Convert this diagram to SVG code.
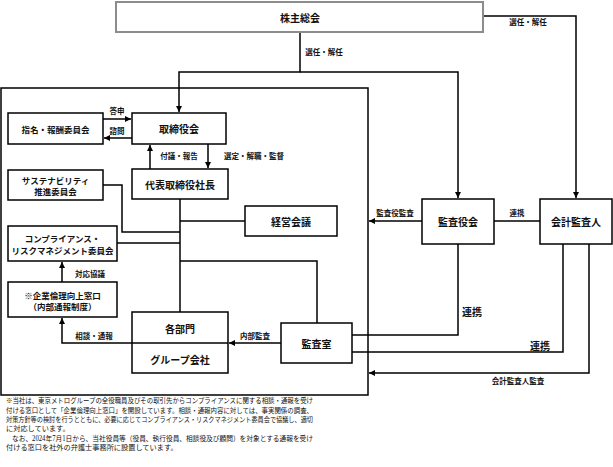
<svg xmlns="http://www.w3.org/2000/svg" width="613" height="467" viewBox="0 0 613 467">
<defs>
<marker id="arr" viewBox="0 0 10 10" refX="10" refY="5" markerWidth="6" markerHeight="6" markerUnits="userSpaceOnUse" orient="auto">
<path d="M0,0 L10,5 L0,10 z" fill="#000"/>
</marker>
<style>
.box{fill:#fff;stroke:#000;stroke-width:1.5}
.top{fill:#fff;stroke:#8c8c8c;stroke-width:2}
.ln{fill:none;stroke:#000;stroke-width:1.5}
.ar{fill:none;stroke:#000;stroke-width:1.5;marker-end:url(#arr)}
.t{font-family:"Noto Sans CJK JP","Noto Sans",sans-serif;font-weight:bold;font-size:10px;fill:#111;text-anchor:middle;dominant-baseline:central}
.s{font-family:"Noto Sans CJK JP","Noto Sans",sans-serif;font-weight:bold;font-size:8.5px;fill:#111;text-anchor:middle;dominant-baseline:central}
.e{font-family:"Noto Sans CJK JP","Noto Sans",sans-serif;font-weight:bold;font-size:7.5px;fill:#111;text-anchor:middle;dominant-baseline:central}
.n{font-family:"Liberation Serif","Noto Sans CJK JP",serif;font-size:7.2px;fill:#111}
</style>
</defs>
<rect x="1" y="88" width="367" height="307" class="ln"/>
<g id="connectors">
<path d="M300,32 V72 H179 V112" class="ar"/>
<path d="M300,72 H458 V198" class="ar"/>
<path d="M483,16 H576 V198" class="ar"/>
<path d="M103,119 H131" class="ar"/>
<path d="M132,138 H104" class="ar"/>
<path d="M150,169 V145" class="ar"/>
<path d="M208,144 V168" class="ar"/>
<path d="M103,185 H122 V232 H180" class="ln"/>
<path d="M180,199 V312" class="ln"/>
<path d="M180,221 H245" class="ln"/>
<path d="M117,243 H180" class="ln"/>
<path d="M180,261 H317 V323" class="ln"/>
<path d="M62,282 V262" class="ar"/>
<path d="M132,343 H62 V318" class="ar"/>
<path d="M281,343 H229" class="ar"/>
<path d="M494,221 H540" class="ln"/>
<path d="M422,221 H369" class="ar"/>
<path d="M458,244 V335 H352" class="ln"/>
<path d="M563,244 V352 H352" class="ln"/>
<path d="M589,244 V373 H369" class="ar"/>
<text x="324" y="51" class="e">選任・解任</text>
<text x="528" y="21.5" class="e">選任・解任</text>
<text x="117" y="110.5" class="e">答申</text>
<text x="117" y="130" class="e">諮問</text>
<text x="179" y="155.5" class="e">付議・報告</text>
<text x="254" y="155.5" class="e">選定・解職・監督</text>
<text x="90" y="273" class="e">対応協議</text>
<text x="94" y="335" class="e">相談・通報</text>
<text x="255" y="335" class="e">内部監査</text>
<text x="517" y="212.5" class="e">連携</text>
<text x="395" y="212.5" class="e">監査役監査</text>
<text x="472" y="311.5" class="t">連携</text>
<text x="540" y="345" class="t">連携</text>
<text x="518" y="380.5" class="e">会計監査人監査</text>
</g>
<g id="shareholders"><rect x="116" y="2" width="367" height="30" class="top"/><text x="300" y="17" class="t">株主総会</text></g>
<g id="nomination"><rect x="8" y="113" width="95" height="31" class="box"/><text x="55.5" y="128.5" class="s">指名・報酬委員会</text></g>
<g id="board"><rect x="132" y="113" width="94" height="31" class="box"/><text x="179" y="128.5" class="t">取締役会</text></g>
<g id="president"><rect x="132" y="169" width="96" height="30" class="box"/><text x="180" y="184" class="t">代表取締役社長</text></g>
<g id="sustainability"><rect x="8" y="170" width="95" height="30" class="box"/><text x="55.5" y="180" class="s">サステナビリティ</text><text x="55.5" y="191" class="s">推進委員会</text></g>
<g id="management"><rect x="245" y="206" width="92" height="30" class="box"/><text x="291" y="221" class="t">経営会議</text></g>
<g id="compliance"><rect x="8" y="226" width="109" height="35" class="box"/><text x="62.5" y="238" class="s">コンプライアンス・</text><text x="62.5" y="250" class="s">リスクマネジメント委員会</text></g>
<g id="hotline"><rect x="8" y="282" width="109" height="35" class="box"/><text x="62.5" y="295" class="s">※企業倫理向上窓口</text><text x="62.5" y="306" class="s">（内部通報制度）</text></g>
<g id="departments"><rect x="132" y="312" width="96" height="61" class="box"/><path d="M132,343 H228" class="ln"/><text x="180" y="328" class="t">各部門</text><text x="180" y="359" class="t">グループ会社</text></g>
<g id="audit-office"><rect x="281" y="323" width="71" height="40" class="box"/><text x="316.5" y="343" class="t">監査室</text></g>
<g id="auditors"><rect x="422" y="199" width="72" height="45" class="box"/><text x="458" y="221.5" class="t">監査役会</text></g>
<g id="accounting-auditor"><rect x="540" y="199" width="72" height="45" class="box"/><text x="576" y="221.5" class="t">会計監査人</text></g>
<g id="note">
<text x="6" y="402.5" class="n" textLength="307" lengthAdjust="spacingAndGlyphs">※当社は、東京メトログループの全役職員及びその取引先からコンプライアンスに関する相談・通報を受け</text>
<text x="6" y="412.5" class="n" textLength="307" lengthAdjust="spacingAndGlyphs">付ける窓口として「企業倫理向上窓口」を開設しています。相談・通報内容に対しては、事実関係の調査、</text>
<text x="6" y="421.5" class="n" textLength="307" lengthAdjust="spacingAndGlyphs">対策方針等の検討を行うとともに、必要に応じてコンプライアンス・リスクマネジメント委員会で協議し、適切</text>
<text x="6" y="430.5" class="n">に対応しています。</text>
<text x="12" y="440.5" class="n" textLength="301" lengthAdjust="spacingAndGlyphs">なお、2024年7月1日から、当社役員等（役員、執行役員、相談役及び顧問）を対象とする通報を受け</text>
<text x="6" y="449.5" class="n">付ける窓口を社外の弁護士事務所に設置しています。</text>
</g>
</svg>
